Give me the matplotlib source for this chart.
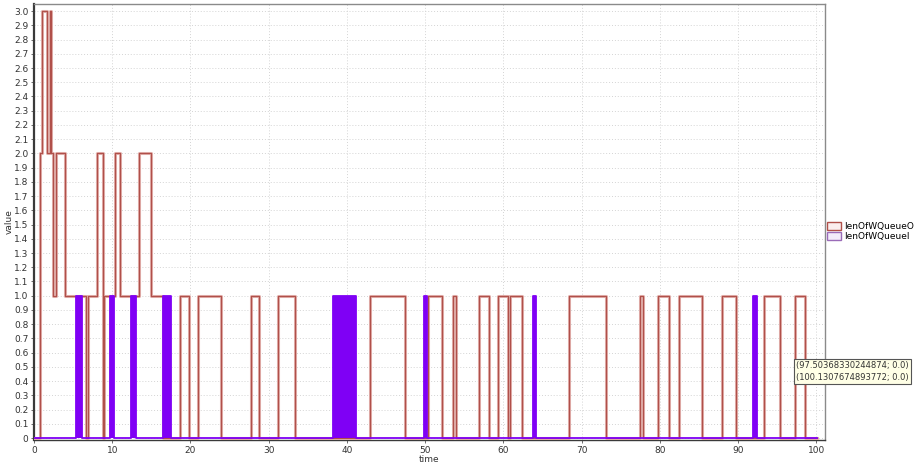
import numpy as np
import matplotlib
matplotlib.use("Agg")
import matplotlib.pyplot as plt
from matplotlib.patches import Patch

# lenOfWQueueO: step transitions (time, queue length after the change)
o_times = [0.0, 0.8, 1.05, 1.7, 2.0, 2.15, 2.4, 2.87, 4.02, 6.6, 6.9, 8.07, 8.8, 8.95,
           10.32, 10.96, 13.38, 15.0, 16.45, 18.6, 19.8, 20.9, 23.95, 27.78, 28.8,
           31.18, 33.31, 42.98, 47.36, 50.3, 52.13, 53.6, 53.96, 56.9, 58.2, 59.36,
           60.56, 60.86, 62.43, 68.43, 73.12, 77.46, 77.8, 79.72, 81.2, 82.48, 85.42,
           87.97, 89.68, 93.33, 95.34, 97.25, 98.53, 100.13]
o_values = [0, 2, 3, 2, 3, 2, 1, 2, 1, 0, 1, 2, 0, 1,
            2, 1, 2, 1, 0, 1, 0, 1, 0, 1, 0,
            1, 0, 1, 0, 1, 0, 1, 0, 1, 0, 1,
            0, 1, 0, 1, 0, 1, 0, 1, 0, 1, 0,
            1, 0, 1, 0, 1, 0, 0]

# lenOfWQueueI: busy periods where the queue toggles rapidly between 0 and 1
i_times = [0.0, 5.43, 6.15, 9.77, 10.2, 12.45, 13.1, 16.45, 17.5, 38.2, 41.15,
           49.8, 50.2, 63.75, 64.1, 91.85, 92.44, 100.13]
i_values = [0, 1, 0, 1, 0, 1, 0, 1, 0, 1, 0, 1, 0, 1, 0, 1, 0, 0]

series_names = ["lenOfWQueueO", "lenOfWQueueI"]
tip_lines = ["(97.50368330244874; 0.0)", "(100.1307674893772; 0.0)"]

x_ticks = list(range(0, 101, 10))
y_ticks = [round(v * 0.1, 1) for v in range(0, 31)]
y_labels = ["0"] + [f"{v:.1f}" for v in y_ticks[1:]]

red = "#b0504a"
red_halo = "#e4b4b0"
purple = "#7f00f5"

fig = plt.figure(figsize=(9.23, 4.63), dpi=100)
ax = fig.add_axes([34 / 923, 1 - 440 / 463, (825 - 34) / 923, (440 - 4) / 463])

# queue O: soft wide stroke under a thin darker one
ax.step(o_times, o_values, where="post", color=red_halo, lw=2.2, zorder=3)
ax.step(o_times, o_values, where="post", color=red, lw=0.9, zorder=3)
ax.fill_between(i_times, i_values, step="post", color=purple, lw=0, zorder=4)
ax.step(i_times, i_values, where="post", color=purple, lw=1.3, zorder=4)

ax.set_xlim(0, 101.1)
ax.set_ylim(-0.014, 3.05)
ax.set_xticks(x_ticks)
ax.set_yticks(y_ticks)
ax.set_yticklabels(y_labels)
ax.tick_params(axis="both", labelsize=6.5, length=2, width=0.6,
               colors="#555555", labelcolor="#333333", pad=2)
ax.grid(True, color="#d4d4d4", lw=0.7, ls=(0, (1, 2)))
ax.set_axisbelow(True)

for side in ("top", "right"):
    ax.spines[side].set_color("#8a8a8a")
    ax.spines[side].set_linewidth(1.0)
ax.spines["left"].set_color("#3a3a3a")
ax.spines["left"].set_linewidth(1.6)
ax.spines["bottom"].set_color("#3a3a3a")
ax.spines["bottom"].set_linewidth(1.0)

ax.set_xlabel("time", fontsize=6.5, color="#333333", labelpad=0)
ax.set_ylabel("value", fontsize=6.5, color="#333333", labelpad=0)

handles = [Patch(facecolor="#fbeeee", edgecolor=red, lw=1.0),
           Patch(facecolor="#f3ecfb", edgecolor="#9a6bb8", lw=1.0)]
fig.legend(handles, series_names, loc="upper left",
           bbox_to_anchor=(827 / 923, 1 - 222 / 463), frameon=False,
           fontsize=6.5, handlelength=1.5, handleheight=1.0,
           handletextpad=0.4, labelspacing=0.1, borderaxespad=0, borderpad=0)

ax.text(97.45, 0.47, "\n".join(tip_lines), fontsize=6.0, color="#333333",
        va="center", ha="left", clip_on=False, zorder=6, linespacing=1.4,
        bbox=dict(boxstyle="square,pad=0.25", facecolor="#ffffe6",
                  edgecolor="#555555", lw=0.8))

fig.savefig("out.png", dpi=100, facecolor="white")
